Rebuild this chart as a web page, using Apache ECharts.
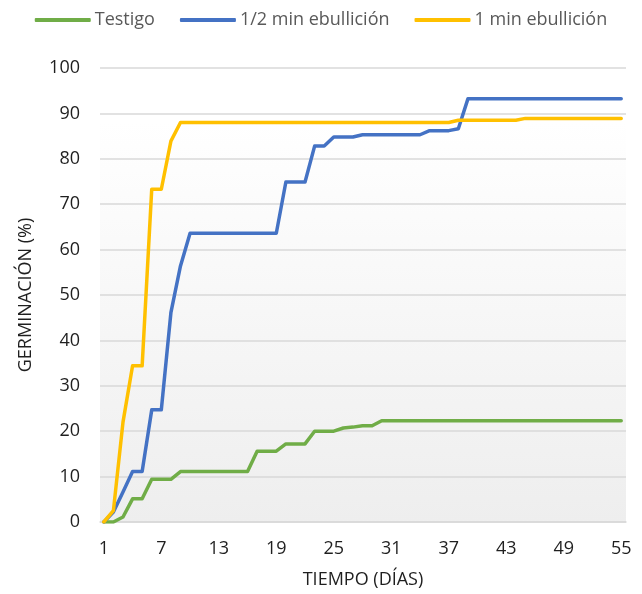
<!DOCTYPE html>
<html>
<head>
<meta charset="utf-8">
<script src="https://cdn.jsdelivr.net/npm/echarts@6/dist/echarts.min.js"></script>
<style>
html,body{margin:0;padding:0;background:#fff;}
#chart{width:642px;height:594px;}
</style>
</head>
<body>
<div id="chart"></div>
<script>
// Days 1..55
const days = [];
for (let d = 1; d <= 55; d++) days.push(d);

const xTickLabels = [1, 7, 13, 19, 25, 31, 37, 43, 49, 55];

const seriesNames = ['Testigo', '1/2 min ebullición', '1 min ebullición'];

const testigo = [
  0, 0, 1.1, 5.1, 5.1, 9.4, 9.4, 9.4, 11.1, 11.1,
  11.1, 11.1, 11.1, 11.1, 11.1, 11.1, 15.6, 15.6, 15.6, 17.2,
  17.2, 17.2, 20.0, 20.0, 20.0, 20.7, 20.9, 21.2, 21.2, 22.3,
  22.3, 22.3, 22.3, 22.3, 22.3, 22.3, 22.3, 22.3, 22.3, 22.3,
  22.3, 22.3, 22.3, 22.3, 22.3, 22.3, 22.3, 22.3, 22.3, 22.3,
  22.3, 22.3, 22.3, 22.3, 22.3
];

const mediaMin = [
  0, 2.2, 6.6, 11.1, 11.1, 24.7, 24.7, 46.1, 56.4, 63.6,
  63.6, 63.6, 63.6, 63.6, 63.6, 63.6, 63.6, 63.6, 63.6, 74.9,
  74.9, 74.9, 82.8, 82.8, 84.8, 84.8, 84.8, 85.3, 85.3, 85.3,
  85.3, 85.3, 85.3, 85.3, 86.2, 86.2, 86.2, 86.6, 93.2, 93.2,
  93.2, 93.2, 93.2, 93.2, 93.2, 93.2, 93.2, 93.2, 93.2, 93.2,
  93.2, 93.2, 93.2, 93.2, 93.2
];

const unMin = [
  0, 2.5, 22.0, 34.4, 34.4, 73.3, 73.3, 83.9, 88.0, 88.0,
  88.0, 88.0, 88.0, 88.0, 88.0, 88.0, 88.0, 88.0, 88.0, 88.0,
  88.0, 88.0, 88.0, 88.0, 88.0, 88.0, 88.0, 88.0, 88.0, 88.0,
  88.0, 88.0, 88.0, 88.0, 88.0, 88.0, 88.0, 88.5, 88.5, 88.5,
  88.5, 88.5, 88.5, 88.5, 88.9, 88.9, 88.9, 88.9, 88.9, 88.9,
  88.9, 88.9, 88.9, 88.9, 88.9
];

const colors = ['#70AD47', '#4472C4', '#FFC000'];
const FONT = '"Open Sans", sans-serif';
const TXT = '#1f1f1f';
const LEG = '#595959';

function pairs(vals) { return days.map((d, i) => [d, vals[i]]); }

const chart = echarts.init(document.getElementById('chart'), null, {renderer: 'canvas'});
const mk = (name, vals, color, z) => ({
  name: name,
  type: 'line',
  data: pairs(vals),
  showSymbol: false,
  symbol: 'none',
  z: z,
  lineStyle: {color: color, width: 3.5, cap: 'round', join: 'round'},
  itemStyle: {color: color},
  animation: false
});

chart.setOption({
  animation: false,
  backgroundColor: '#ffffff',
  legend: {
    top: 6,
    left: 'center',
    icon: 'roundRect',
    itemWidth: 56,
    itemHeight: 4,
    itemGap: 25,
    textStyle: {fontFamily: FONT, fontSize: 18, color: LEG, padding: [0, 0, 0, -1]},
    data: seriesNames
  },
  grid: {
    left: 100, right: 16, top: 68, bottom: 71,
    show: true,
    borderWidth: 0,
    backgroundColor: {
      type: 'linear', x: 0, y: 0, x2: 0, y2: 1,
      colorStops: [
        {offset: 0, color: '#ffffff'},
        {offset: 0.12, color: '#ffffff'},
        {offset: 1, color: '#eeeeee'}
      ]
    }
  },
  xAxis: {
    type: 'value',
    min: 0.6,
    max: 55.5,
    name: 'TIEMPO (DÍAS)',
    nameLocation: 'middle',
    nameGap: 49,
    nameTextStyle: {fontFamily: FONT, fontSize: 18, color: TXT},
    axisLine: {show: true, lineStyle: {color: '#d9d9d9', width: 1.5}},
    axisTick: {show: false},
    splitLine: {show: false},
    axisLabel: {
      customValues: xTickLabels,
      margin: 18,
      fontFamily: FONT, fontSize: 18, color: TXT
    }
  },
  yAxis: {
    type: 'value',
    min: 0,
    max: 100,
    interval: 10,
    name: 'GERMINACIÓN (%)',
    nameLocation: 'middle',
    nameGap: 65,
    nameRotate: 90,
    nameTextStyle: {fontFamily: FONT, fontSize: 18, color: TXT},
    axisLine: {show: false},
    axisTick: {show: false},
    splitLine: {show: true, lineStyle: {color: '#d9d9d9', width: 1.5}},
    axisLabel: {margin: 20, fontFamily: FONT, fontSize: 18, color: TXT}
  },
  series: [
    mk(seriesNames[0], testigo, colors[0], 3),
    mk(seriesNames[1], mediaMin, colors[1], 4),
    mk(seriesNames[2], unMin, colors[2], 5)
  ]
});
</script>
</body>
</html>
